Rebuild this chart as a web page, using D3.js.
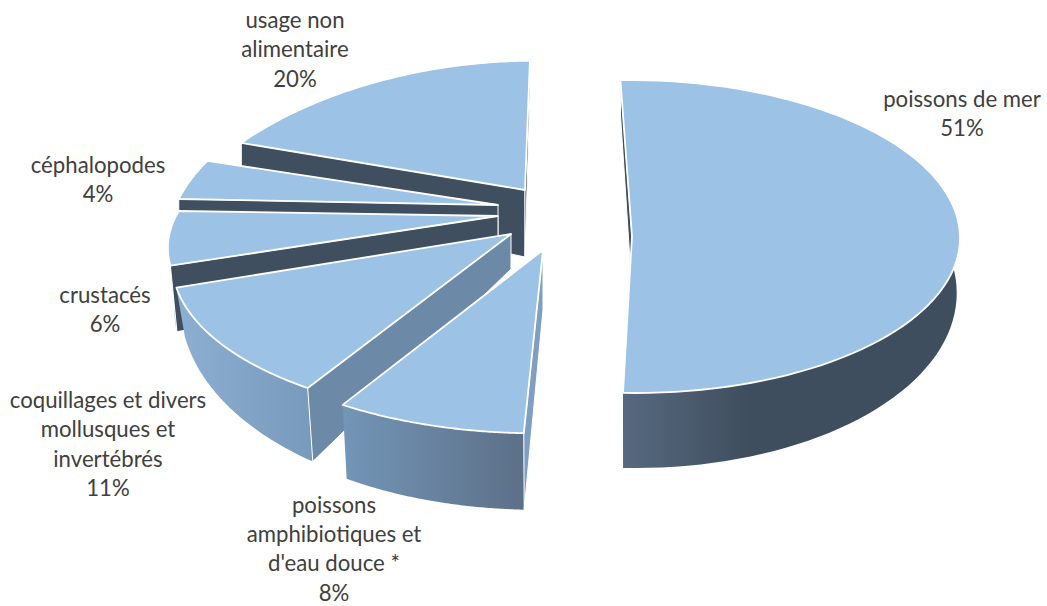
<!DOCTYPE html>
<html>
<head>
<meta charset="utf-8">
<script src="https://cdn.jsdelivr.net/npm/d3@7"></script>
<style>
  html, body { margin: 0; padding: 0; background: #fff; }
  svg { display: block; }
  text { font-family: Lato, "Open Sans", sans-serif; font-size: 22.2px; fill: #404040; }
</style>
</head>
<body>
<div id="chart"></div>
<script>
var categories = [
  'poissons de mer',
  "poissons amphibiotiques et d'eau douce *",
  'coquillages et divers mollusques et invertébrés',
  'crustacés',
  'céphalopodes',
  'usage non alimentaire'
];
var values = [51, 8, 11, 6, 4, 20];

var labelLines = [
  ['poissons de mer'],
  ['poissons', 'amphibiotiques et', "d'eau douce *"],
  ['coquillages et divers', 'mollusques et', 'invertébrés'],
  ['crustacés'],
  ['céphalopodes'],
  ['usage non', 'alimentaire']
];

// layout, one entry per slice
var pieCentre = { x: 560, y: 230 };
var explode = [[72, 6.5], [-17, 20], [-49, 4], [-62, -14], [-62, -25], [-35, -40]];
var radiusX = [328, 349, 333, 322, 322, 337];
var radiusY = [156.5, 165, 151, 138, 165, 187];
var perspective = [0, 0.1, 0.185, 0.22, 0.22, 0.446];
var shear = [3, -5, 0, 0, 0, -11];
var apexDepth = [55, 60, 35, 60, 60, 67];
var floorScaleX = [0.99, 0.98, 0.975, 0.98, 1, 1];
var floorScaleY = [1.128, 1.09, 1.25, 1.12, 1.1, 1.27];
var wallColors = ['#3f4f5f', '#7f9fc2', '#6c89a8', '#3f4f5f', '#3f4f5f', '#3f4f5f'];
var labelX = [962, 334, 108, 105, 98, 295];
var labelY = [107, 512.5, 408, 303, 173, 28];
var paintOrder = [5, 4, 3, 2, 1, 0];

var topColor = '#9cc2e5';
var lineStep = 29.4;
var startAngle = -1.5 * Math.PI / 180;

function draw() {

  var width = 1047, height = 606;

  var svg = d3.select('#chart').append('svg')
    .attr('width', width)
    .attr('height', height);

  // the outer walls share one horizontal gradient across the picture
  var gradient = svg.append('defs').append('linearGradient')
    .attr('id', 'rim')
    .attr('gradientUnits', 'userSpaceOnUse')
    .attr('x1', 170).attr('x2', 750).attr('y1', 0).attr('y2', 0);

  [[0, '#8db0d3'], [0.3, '#7395b7'], [0.6, '#5d7189'], [0.78, '#56697f'], [1, '#3f4e5e']]
    .forEach(function (s) {
      gradient.append('stop').attr('offset', s[0]).attr('stop-color', s[1]);
    });

  var arcs = d3.pie().sort(null)
    .startAngle(startAngle)
    .endAngle(startAngle + 2 * Math.PI)(values);

  var line = d3.line();

  function apexOf(i) {
    return [pieCentre.x + explode[i][0], pieCentre.y + explode[i][1]];
  }

  function topPoint(i, a) {
    var apex = apexOf(i);
    var back = -Math.cos(a);
    var k = 1 / (1 - perspective[i] * back);
    return [
      apex[0] + Math.sin(a) * radiusX[i] * k + shear[i] * back,
      apex[1] + back * radiusY[i] * k
    ];
  }

  function floorPoint(i, a) {
    var apex = apexOf(i);
    var p = topPoint(i, a);
    return [
      apex[0] + (p[0] - apex[0]) * floorScaleX[i],
      apex[1] + apexDepth[i] + (p[1] - apex[1]) * floorScaleY[i]
    ];
  }

  function radialWall(i, a) {
    var apex = apexOf(i);
    return [apex, topPoint(i, a), floorPoint(i, a), [apex[0], apex[1] + apexDepth[i]]];
  }

  var group = svg.append('g');

  paintOrder.forEach(function (i) {
    var d = arcs[i];
    var steps = d3.range(0, 81).map(function (s) {
      return d.startAngle + (d.endAngle - d.startAngle) * s / 80;
    });
    var topRing = steps.map(function (a) { return topPoint(i, a); });
    var floorRing = steps.map(function (a) { return floorPoint(i, a); }).reverse();

    var slice = group.append('g');

    // outer wall
    slice.append('path')
      .attr('d', line(topRing.concat(floorRing)) + 'Z')
      .attr('fill', 'url(#rim)');

    // cut faces, only the ones turned towards the viewer
    var startWall = radialWall(i, d.startAngle);
    var endWall = radialWall(i, d.endAngle);
    [[startWall, d3.polygonArea(startWall) > 0], [endWall, d3.polygonArea(endWall) < 0]]
      .forEach(function (w) {
        if (!w[1]) return;
        slice.append('path')
          .attr('d', line(w[0]) + 'Z')
          .attr('fill', wallColors[i])
          .attr('stroke', '#fff')
          .attr('stroke-width', 1);
      });

    // top face
    slice.append('path')
      .attr('d', line(topRing.concat([apexOf(i)])) + 'Z')
      .attr('fill', topColor)
      .attr('stroke', '#fff')
      .attr('stroke-width', 1.8)
      .attr('stroke-linejoin', 'round');
  });

  // Labels
  var labels = svg.append('g').selectAll('text')
    .data(categories)
    .enter()
    .append('text')
    .attr('text-anchor', 'middle')
    .attr('x', function (d, i) { return labelX[i]; })
    .attr('y', function (d, i) { return labelY[i]; });

  labels.each(function (d, i) {
    var rows = labelLines[i].concat([values[i] + '%']);
    d3.select(this).selectAll('tspan')
      .data(rows)
      .enter()
      .append('tspan')
      .attr('x', labelX[i])
      .attr('y', function (r, j) { return labelY[i] + j * lineStep; })
      .text(function (r) { return r; });
  });
}

draw();
</script>
</body>
</html>
